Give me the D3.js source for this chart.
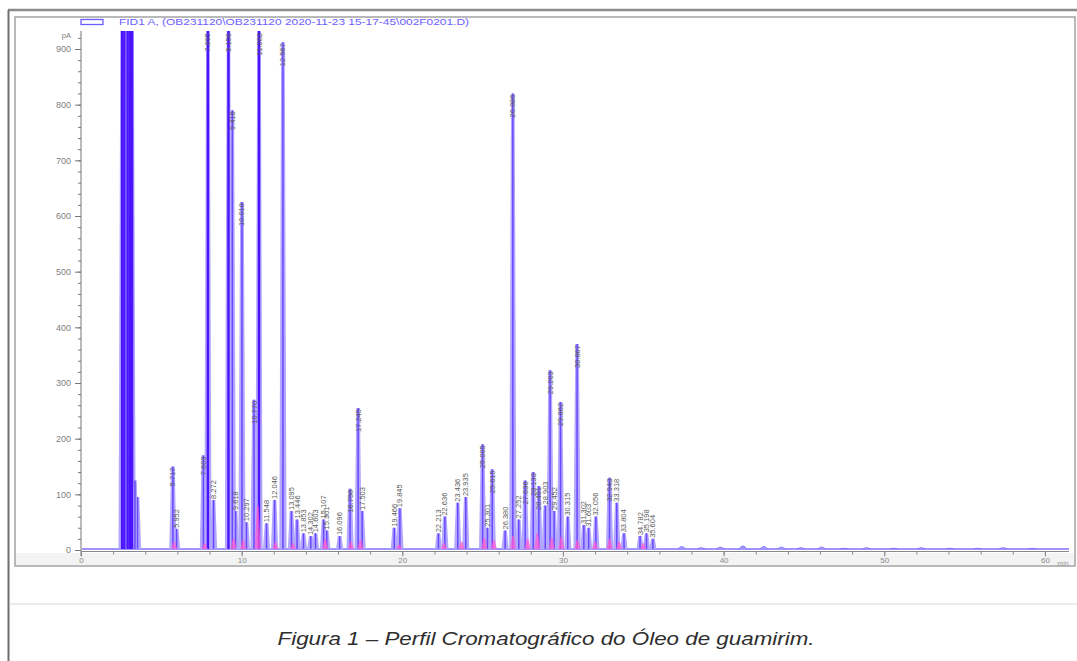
<!DOCTYPE html>
<html><head><meta charset="utf-8">
<script src="https://cdn.jsdelivr.net/npm/d3@7"></script>
<style>html,body{margin:0;padding:0;background:#fff}svg{display:block}</style>
</head><body>
<script>
// ---- data ----
const legendText = "FID1 A, (OB231120\\OB231120 2020-11-23 15-17-45\\002F0201.D)";
const captionText = "Figura 1 \u2013 Perfil Cromatogr\u00e1fico do \u00d3leo de guamirim.";
const yTicks = [0,100,200,300,400,500,600,700,800,900];
const xTicks = [0,10,20,30,40,50,60];
// retention times (min), heights (pA), labels
const peakTimes = [2.56,2.70,2.90,3.04,3.18,3.36,3.52,
  5.72,5.95,7.62,7.90,8.25,9.18,9.42,9.62,10.02,10.30,10.77,11.08,11.55,12.05,12.57,
  13.10,13.45,13.85,14.30,14.60,15.10,15.30,16.10,16.75,17.25,17.50,19.50,19.85,
  22.25,22.65,23.45,23.95,25.00,25.30,25.60,26.40,26.88,27.25,27.65,28.15,28.50,28.90,
  29.20,29.45,29.85,30.30,30.88,31.30,31.60,32.05,32.90,33.35,33.80,34.80,35.20,35.60];
const peakHeights = [1000,1000,1000,1000,1000,125,95,
  150,38,170,1000,90,1000,790,70,625,50,270,1000,48,90,912,
  70,55,30,25,30,55,35,25,110,255,70,40,75,
  30,60,85,95,190,40,145,35,820,55,125,140,115,80,
  323,70,266,60,370,45,40,60,130,85,30,25,30,20];
const peakLabels = ["","","","","","","",
  "5.717","5.952","7.609","7.895","8.272","9.158","9.416","9.618","10.018","10.297","10.770","11.083","11.548","12.046","12.567",
  "13.095","13.446","13.853","14.302","14.603","15.107","15.301","16.096","16.758","17.245","17.503","19.466","19.845",
  "22.213","22.636","23.436","23.935","25.005","25.301","25.615","26.380","26.886","27.252","27.636","28.133","28.491","28.903",
  "29.203","29.452","29.862","30.315","30.867","31.302","31.603","32.056","32.943","33.318","33.804","34.782","35.198","35.604"];
// small late-eluting bumps on the baseline
const tailTimes = [37.4,38.6,39.8,41.2,42.5,43.6,44.8,46.1,47.5,48.9,50.6,52.3,54.1,55.8,57.4,59.2];
const tailHeights = [6,4,5,7,6,5,4,5,3,4,3,4,3,3,4,3];
// pink integration marks
const pinkTimes = [5.8,7.7,9.5,10.1,11.0,12.1,13.2,15.2,16.8,17.4,19.8,22.6,23.7,25.1,25.7,26.9,27.8,28.4,29.3,29.9,30.9,32.0,32.9,33.5,35.0];
const pinkHeights = [15,12,20,18,80,14,12,20,15,18,10,12,15,22,18,25,20,30,22,24,18,15,20,15,12];

// ---- layout ----
const W = 1077, H = 661;
const FONT = "Liberation Sans, Arial, sans-serif";
const svg = d3.select("body").append("svg").attr("width", W).attr("height", H);
svg.append("rect").attr("width", W).attr("height", H).attr("fill", "#fff");

// page frame
svg.append("line").attr("x1", 8).attr("x2", W).attr("y1", 10).attr("y2", 10).attr("stroke", "#8c8c8c").attr("stroke-width", 2.5);
svg.append("line").attr("x1", 8.5).attr("x2", 8.5).attr("y1", 10).attr("y2", H).attr("stroke", "#6e6e6e").attr("stroke-width", 2);
svg.append("rect").attr("x", 15).attr("y", 17).attr("width", 1060).attr("height", 549)
  .attr("fill", "#fff").attr("stroke", "#a3a3a3").attr("stroke-width", 1.5);
svg.append("rect").attr("x", 16).attr("y", 553).attr("width", 1058).attr("height", 12).attr("fill", "#f3f3f3");
svg.append("line").attr("x1", 10).attr("x2", W).attr("y1", 604).attr("y2", 604).attr("stroke", "#e6e6e6").attr("stroke-width", 1.5);

const x = d3.scaleLinear().domain([0, 61.5]).range([81, 1069]);
const y = d3.scaleLinear().domain([0, 900]).range([550, 49]);
const topY = 31;

svg.append("clipPath").attr("id", "clip").append("rect")
  .attr("x", 82).attr("y", topY).attr("width", 990).attr("height", 522);

// axes
const gy = svg.append("g").attr("transform", "translate(81,0)");
gy.call(d3.axisLeft(y).tickValues(yTicks).tickSize(6).tickFormat(d3.format("d")));
gy.append("g").call(d3.axisLeft(y).tickValues(d3.range(0, 921, 20)).tickSize(3).tickFormat(""));
gy.selectAll("path").remove();
gy.append("line").attr("y1", topY).attr("y2", 556).attr("stroke", "#777");
gy.selectAll("line").attr("stroke", "#777");
gy.selectAll("text").attr("fill", "#808080").attr("font-size", 9).attr("font-family", FONT).attr("x", -10);
gy.append("text").attr("x", -10).attr("y", 38).attr("text-anchor", "end").attr("fill", "#808080")
  .attr("font-size", 7.5).attr("font-family", FONT).text("pA");

const gx = svg.append("g").attr("transform", "translate(0,551.5)");
gx.call(d3.axisBottom(x).tickValues(xTicks).tickSize(5).tickFormat(d3.format("d")));
gx.append("g").call(d3.axisBottom(x).tickValues(d3.range(0, 61, 2)).tickSize(3).tickFormat(""));
gx.selectAll("path").remove();
gx.append("line").attr("x1", 81).attr("x2", 1069).attr("stroke", "#888");
gx.selectAll("line").attr("stroke", "#888");
gx.selectAll("text").attr("fill", "#888").attr("font-size", 8).attr("font-family", FONT).attr("y", 6);
gx.append("text").attr("x", 1063).attr("y", 14).attr("text-anchor", "middle").attr("fill", "#999")
  .attr("font-size", 7).attr("font-family", FONT).text("min");

// legend
svg.append("rect").attr("x", 81).attr("y", 19.5).attr("width", 22).attr("height", 5)
  .attr("fill", "none").attr("stroke", "#6a5cff").attr("stroke-width", 1.3);
svg.append("text").attr("x", 119).attr("y", 25).attr("fill", "#6a5eff").attr("font-size", 8.5)
  .attr("font-family", FONT).attr("textLength", 350)
  .attr("lengthAdjust", "spacingAndGlyphs").text(legendText);

// chromatogram
const plot = svg.append("g").attr("clip-path", "url(#clip)");
const base = y(2);
plot.append("line").attr("x1", x(0)).attr("x2", x(61.5)).attr("y1", base).attr("y2", base)
  .attr("stroke", "#8070ff").attr("stroke-width", 1.5);

const peaks = peakTimes.map((t, i) => ({t, h: peakHeights[i], label: peakLabels[i]}));
const tails = tailTimes.map((t, i) => ({t, h: tailHeights[i]}));
const pinks = pinkTimes.map((t, i) => ({t, h: pinkHeights[i]}));

const line = d3.line();
function shape(d, wb, wt) {
  const cx = x(d.t), ay = Math.max(y(d.h), topY - 2);
  return line([[cx - wb, base], [cx - wt, ay], [cx + wt, ay], [cx + wb, base]]);
}
plot.selectAll("path.tail").data(tails).join("path").attr("class", "tail")
  .attr("d", d => shape(d, 4, 1)).attr("fill", "#a497ff").attr("stroke", "#7a66ff").attr("stroke-width", 0.8);
plot.selectAll("path.halo").data(peaks).join("path").attr("class", "halo")
  .attr("d", d => shape(d, 3.6, 1.8)).attr("fill", "#b2a8ff").attr("stroke", "none");
plot.selectAll("line.core").data(peaks).join("line").attr("class", "core")
  .attr("x1", d => x(d.t)).attr("x2", d => x(d.t))
  .attr("y1", base).attr("y2", d => Math.max(y(d.h), topY - 2))
  .attr("stroke", d => d.h >= 1000 ? "#4a14ff" : "#6a48ff").attr("stroke-width", d => d.h >= 1000 ? 2.4 : 1.5);
plot.selectAll("path.pink").data(pinks).join("path").attr("class", "pink")
  .attr("d", d => shape(d, 3, 0.8)).attr("fill", "#ff5ad0").attr("opacity", 0.75);

// peak labels
const lab = svg.append("g").attr("font-family", FONT).attr("font-size", 7.5).attr("fill", "#5a5a5a");
lab.selectAll("text").data(peaks.filter(d => d.label)).join("text")
  .each(function(d) {
    const ay = Math.max(y(d.h), topY + 1);
    const small = d.h < 100;
    d3.select(this)
      .attr("transform", `translate(${x(d.t) + 2.5},${small ? ay - 1 : ay + 1}) rotate(-90)`)
      .attr("text-anchor", small ? "start" : "end")
      .text(d.label);
  });

// caption
svg.append("text").attr("x", 546).attr("y", 645).attr("text-anchor", "middle")
  .attr("font-family", FONT).attr("font-style", "italic")
  .attr("font-size", 19).attr("fill", "#2e2e2e").attr("textLength", 537)
  .attr("lengthAdjust", "spacingAndGlyphs").text(captionText);
</script>
</body></html>
